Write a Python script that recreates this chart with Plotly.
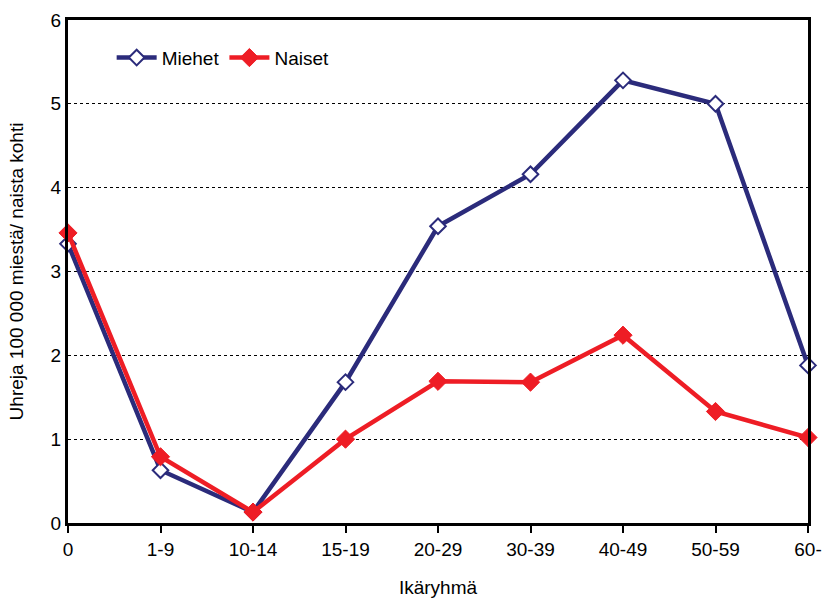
import plotly.graph_objects as go

categories = ["0", "1-9", "10-14", "15-19", "20-29", "30-39", "40-49", "50-59", "60-"]
miehet = [3.33, 0.63, 0.13, 1.68, 3.54, 4.16, 5.28, 5.00, 1.88]
naiset = [3.46, 0.79, 0.13, 1.00, 1.69, 1.68, 2.24, 1.33, 1.02]
y_ticks = [0, 1, 2, 3, 4, 5, 6]

x_idx = list(range(len(categories)))

fig = go.Figure()
fig.add_trace(go.Scatter(
    x=x_idx, y=miehet, name="Miehet", mode="lines+markers",
    line=dict(color="#2B2B7B", width=4.5),
    marker=dict(symbol="diamond", size=12, color="white",
                line=dict(color="#2B2B7B", width=2)),
    cliponaxis=False,
))
fig.add_trace(go.Scatter(
    x=x_idx, y=naiset, name="Naiset", mode="lines+markers",
    line=dict(color="#EE1D25", width=4.5),
    marker=dict(symbol="diamond", size=14, color="#EE1D25",
                line=dict(color="#EE1D25", width=1)),
    cliponaxis=False,
))

font = dict(family="Liberation Sans, Arial, sans-serif", size=19, color="black")

fig.update_layout(
    width=823, height=598,
    margin=dict(l=68, r=15, t=20, b=75),
    paper_bgcolor="white", plot_bgcolor="white",
    font=font,
    showlegend=True,
    legend=dict(orientation="h", x=0.059, y=0.925, xanchor="left", yanchor="middle",
                bgcolor="rgba(0,0,0,0)", font=font, itemwidth=40,
                tracegroupgap=0),
    xaxis=dict(
        range=[0, 8], tickmode="array", tickvals=x_idx, ticktext=categories,
        showgrid=False, zeroline=False, showline=True, linecolor="black",
        linewidth=3, mirror=True, ticks="outside", ticklen=7, tickwidth=2,
        tickcolor="black", title=dict(text="Ikäryhmä", font=font, standoff=38),
        tickfont=font, automargin=False, ticklabeloverflow="allow",
    ),
    yaxis=dict(
        range=[0, 6], tickmode="array", tickvals=y_ticks,
        showgrid=True, gridcolor="black", griddash="dot", gridwidth=1,
        zeroline=False, showline=True, linecolor="black", linewidth=3,
        mirror=True, ticks="", tickfont=font, automargin=False,
        title=dict(text="Uhreja 100 000 miestä/ naista kohti", font=font, standoff=22),
    ),
)

fig.write_html(
    "out.html",
    config={"displayModeBar": False},
    post_script="document.body.style.margin='0';document.body.style.overflow='hidden';",
)
